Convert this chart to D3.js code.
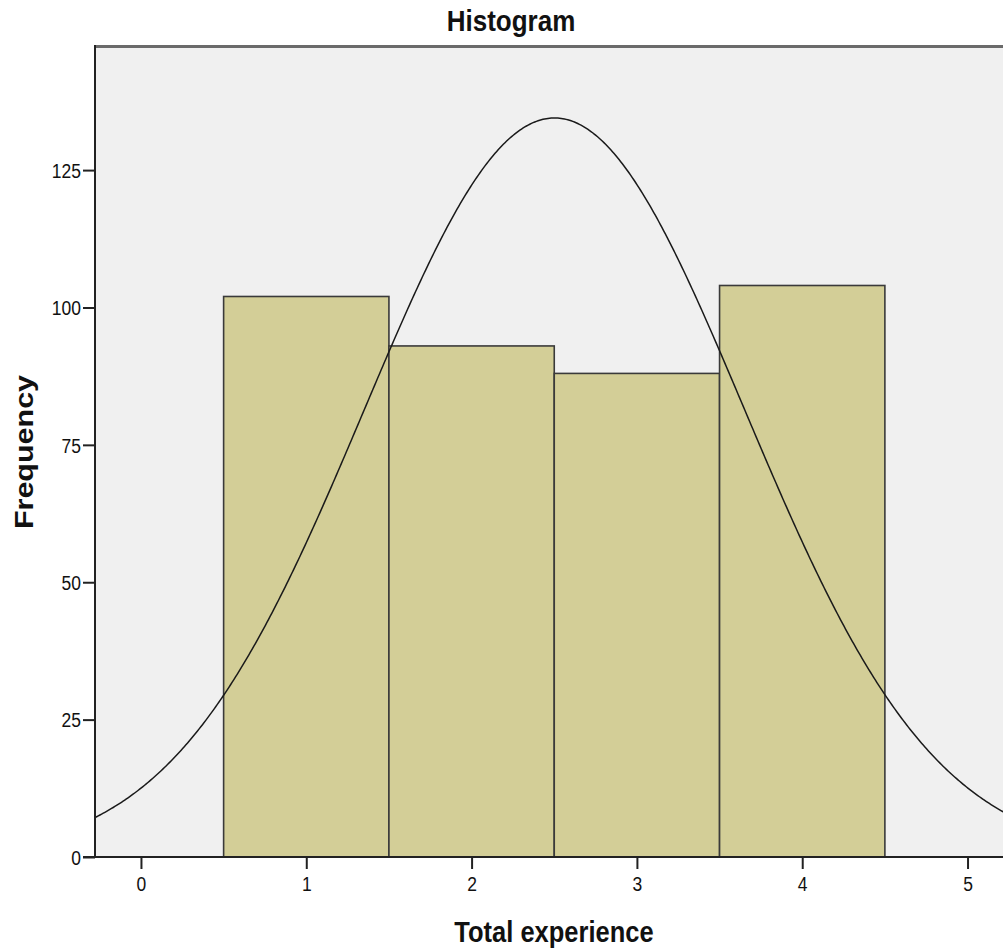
<!DOCTYPE html>
<html>
<head>
<meta charset="utf-8">
<script src="https://cdn.jsdelivr.net/npm/d3@7"></script>
<style>
  html, body { margin: 0; padding: 0; background: #ffffff; }
  svg { display: block; }
  text { font-family: "Liberation Sans", Arial, sans-serif; fill: #111; }
</style>
</head>
<body>
<div id="chart"></div>
<script>
// Histogram of total experience with a fitted normal curve
const binCenters = [1, 2, 3, 4];
const binCounts = [102, 93, 88, 104];
const binWidth = 1;
const xTicks = [0, 1, 2, 3, 4, 5];
const yTicks = [0, 25, 50, 75, 100, 125];

const width = 1003, height = 949;
const plot = { left: 95, right: 1013, top: 47, bottom: 857 };
const stretch = 1.15; // tall glyph proportions used for all labels

const svg = d3.select("#chart").append("svg")
  .attr("width", width).attr("height", height);

const x = d3.scaleLinear().domain([-0.278, 5.275]).range([plot.left, plot.right]);
const y = d3.scaleLinear().domain([0, 147.4]).range([plot.bottom, plot.top]);

// plot background
svg.append("rect")
  .attr("x", plot.left).attr("y", plot.top)
  .attr("width", plot.right - plot.left).attr("height", plot.bottom - plot.top)
  .attr("fill", "#f0f0f0");

// top frame line
svg.append("line")
  .attr("x1", plot.left).attr("x2", plot.right)
  .attr("y1", plot.top - 0.5).attr("y2", plot.top - 0.5)
  .attr("stroke", "#6a6a6a").attr("stroke-width", 3);

// bars
svg.append("g").selectAll("rect")
  .data(binCenters.map((c, i) => ({ c, n: binCounts[i] })))
  .join("rect")
  .attr("x", d => x(d.c - binWidth / 2))
  .attr("y", d => y(d.n))
  .attr("width", d => x(d.c + binWidth / 2) - x(d.c - binWidth / 2))
  .attr("height", d => y(0) - y(d.n))
  .attr("fill", "#d3ce97")
  .attr("stroke", "#3a3a3a")
  .attr("stroke-width", 1.6);

// normal curve from the binned data
const total = d3.sum(binCounts);
const mean = d3.sum(binCenters, (c, i) => c * binCounts[i]) / total;
const variance = d3.sum(binCenters, (c, i) => binCounts[i] * (c - mean) ** 2) / (total - 1);
const sd = Math.sqrt(variance);
const curvePts = d3.range(x.domain()[0], x.domain()[1] + 0.001, 0.01).map(v => [
  v,
  total * binWidth * Math.exp(-0.5 * ((v - mean) / sd) ** 2) / (sd * Math.sqrt(2 * Math.PI))
]);
svg.append("path")
  .datum(curvePts)
  .attr("fill", "none")
  .attr("stroke", "#1a1a1a")
  .attr("stroke-width", 1.5)
  .attr("d", d3.line().x(d => x(d[0])).y(d => y(d[1])));

// axes
const tickFont = "'Liberation Sans', Arial, sans-serif";
const yAxis = d3.axisLeft(y).tickValues(yTicks).tickSize(12).tickPadding(2).tickFormat(d3.format("d"));
const gy = svg.append("g").attr("transform", `translate(${plot.left},0)`).call(yAxis);
gy.select(".domain").attr("stroke", "#222").attr("stroke-width", 2)
  .attr("d", `M0,${plot.top - 2}V${plot.bottom}`);
gy.selectAll(".tick line").attr("stroke", "#222").attr("stroke-width", 2);
gy.selectAll(".tick text")
  .attr("font-size", 17.5).attr("fill", "#222").attr("font-family", tickFont)
  .attr("x", 0).attr("y", 0).attr("dy", "0.36em")
  .attr("transform", `translate(-14,0) scale(1,${stretch})`);

const xAxis = d3.axisBottom(x).tickValues(xTicks).tickSize(12).tickPadding(8).tickFormat(d3.format("d"));
const gx = svg.append("g").attr("transform", `translate(0,${plot.bottom})`).call(xAxis);
gx.select(".domain").attr("stroke", "#222").attr("stroke-width", 2)
  .attr("d", `M${plot.left - 12},0H${plot.right}`);
gx.selectAll(".tick line").attr("stroke", "#222").attr("stroke-width", 2);
gx.selectAll(".tick text")
  .attr("font-size", 17.5).attr("fill", "#222").attr("font-family", tickFont)
  .attr("y", 0).attr("dy", "0.71em")
  .attr("transform", `translate(0,20) scale(1,${stretch})`);

// titles
svg.append("text")
  .attr("transform", `translate(511,31) scale(1,${stretch})`)
  .attr("text-anchor", "middle")
  .attr("font-size", 26).attr("font-weight", "bold")
  .text("Histogram");

svg.append("text")
  .attr("transform", `translate(554,942) scale(1,${stretch})`)
  .attr("text-anchor", "middle")
  .attr("font-size", 25.5).attr("font-weight", "bold")
  .text("Total experience");

svg.append("text")
  .attr("transform", `translate(33,${(plot.top + plot.bottom) / 2}) scale(1,${stretch}) rotate(-90)`)
  .attr("text-anchor", "middle")
  .attr("font-size", 26.5).attr("font-weight", "bold")
  .text("Frequency");
</script>
</body>
</html>
